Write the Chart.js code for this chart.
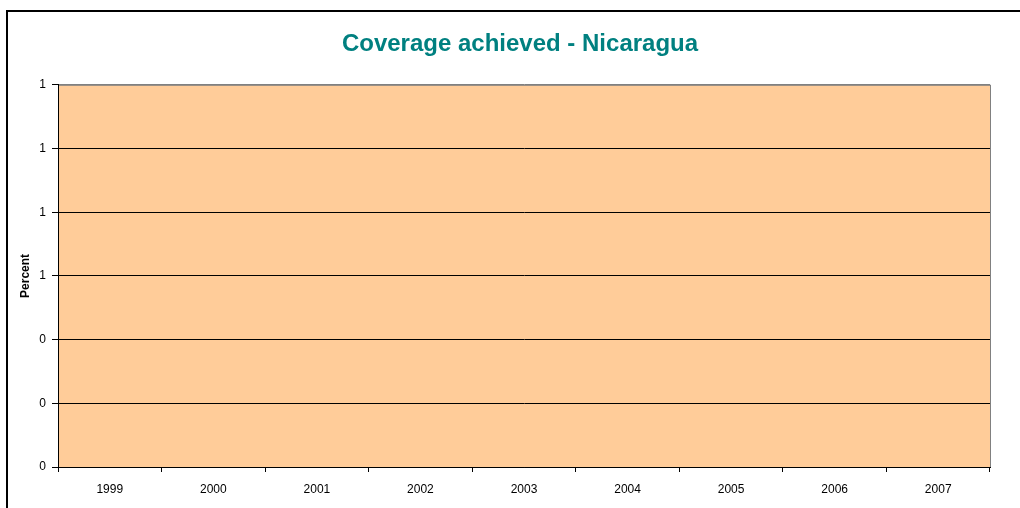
<!DOCTYPE html>
<html>
<head>
<meta charset="utf-8">
<script src="https://cdn.jsdelivr.net/npm/chart.js@4"></script>
<style>
  html, body { margin: 0; padding: 0; background: #fff; }
  #wrap { width: 1020px; height: 508px; }
</style>
</head>
<body>
<div id="wrap"><canvas id="myChart" width="1020" height="508"></canvas></div>
<script>
// data: the chart has no visible values
const years = ["1999", "2000", "2001", "2002", "2003", "2004", "2005", "2006", "2007"];
const coverage = [null, null, null, null, null, null, null, null, null];
const yTicks = [0, 0.2, 0.4, 0.6, 0.8, 1.0, 1.2];

const frame = {
  id: "frame",
  beforeDraw(chart) {
    const c = chart.ctx;
    const a = chart.chartArea;
    c.save();
    c.fillStyle = "#fff";
    c.fillRect(0, 0, chart.width, chart.height);
    // outer chart border
    c.strokeStyle = "#000";
    c.lineWidth = 2;
    c.strokeRect(7, 11, 1100, 600);
    // plot area
    c.fillStyle = "#FFCC99";
    c.fillRect(a.left, a.top, a.right - a.left, a.bottom - a.top);
    c.strokeStyle = "#808080";
    c.lineWidth = 1;
    c.strokeRect(a.left + 0.5, a.top + 0.5, a.right - a.left, a.bottom - a.top);
    c.restore();
  }
};

var ctx = document.getElementById("myChart").getContext("2d");
var myChart = new Chart(ctx, {
  type: "line",
  data: {
    labels: years,
    datasets: [
      {
        label: "Coverage",
        data: coverage,
        borderColor: "#000080",
        pointRadius: 0,
      },
    ],
  },
  options: {
    responsive: false,
    animation: false,
    layout: { padding: { left: 20, right: 0, top: 0, bottom: 0 } },
    plugins: {
      legend: { display: false },
      tooltip: { enabled: false },
      title: {
        display: true,
        text: "Coverage achieved - Nicaragua",
        color: "#008080",
        font: { family: "Liberation Sans, Arial", size: 24, weight: "bold" },
        padding: { top: 30, bottom: 26 },
      },
    },
    scales: {
      x: {
        offset: true,
        grid: {
          offset: true,
          drawOnChartArea: false,
          color: "#000",
          tickLength: 5,
        },
        border: { color: "#000" },
        ticks: {
          color: "#000",
          font: { family: "Liberation Sans, Arial", size: 12 },
          padding: 10,
          maxRotation: 0,
        },
        afterFit: (s) => { s.height = 41; },
      },
      y: {
        min: 0,
        max: 1.2,
        afterBuildTicks: (s) => { s.ticks = yTicks.map((v) => ({ value: v })); },
        grid: {
          color: (c) => (c.tick && c.tick.value === 1.2 ? "#808080" : "#000"),
          tickColor: "#000",
          tickLength: 6,
        },
        border: { color: "#000" },
        ticks: {
          color: "#000",
          font: { family: "Liberation Sans, Arial", size: 12 },
          padding: 6,
          callback: (v) => Math.round(v),
        },
        title: {
          display: true,
          text: "Percent",
          color: "#000",
          font: { family: "Liberation Sans, Arial", size: 12, weight: "bold" },
          padding: { top: -2, bottom: 0 },
        },
        afterFit: (s) => { s.width = 38; },
      },
      // empty right-hand strip so the title centres on the whole frame
      yRight: {
        position: "right",
        display: true,
        grid: { display: false },
        border: { display: false },
        ticks: { display: false },
        afterFit: (s) => { s.width = 30; },
      },
    },
  },
  plugins: [frame],
});
</script>
</body>
</html>
